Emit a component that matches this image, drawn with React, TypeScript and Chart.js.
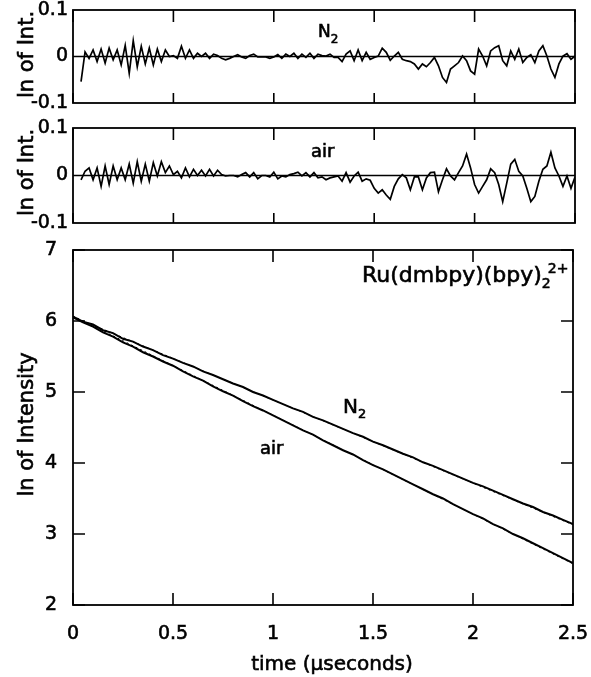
import React, { useEffect, useRef } from "react";
import { Chart, registerables } from "chart.js";

Chart.register(...registerables);

const FONT = '"DejaVu Sans", "Liberation Sans", sans-serif';

// ---------------- data ----------------
// residual sampling clock (µs)
const residStart = 0.04;
const residStep = 0.02;
// main decay sampling clock (µs)
const mainStart = 0;
const mainStep = 0.05;

const n2Residual = [
  -0.054, 0.01, -0.004, 0.014, -0.011, 0.016, -0.014, 0.018, -0.007, 0.014,
  -0.018, 0.024, -0.036, 0.034, -0.022, 0.022, -0.016, 0.018, -0.018, 0.016,
  -0.011, 0.014, 0.0, 0.002, -0.004, 0.022, -0.004, 0.014, -0.004, 0.007,
  0.0, 0.007, -0.004, 0.005, 0.002, -0.004, -0.007, -0.004, 0.0, 0.004,
  -0.001, -0.004, 0.002, 0.005, -0.001, -0.001, -0.001, -0.004, -0.001, 0.004,
  -0.004, 0.005, 0.0, 0.007, -0.004, 0.005, -0.002, 0.007, -0.004, 0.005,
  0.002,
  0.001, 0.005, -0.002, -0.002, -0.011, 0.005, 0.012, -0.009, 0.014, -0.009,
  0.009, -0.006, -0.002, 0.001, 0.018, 0.009, -0.008, 0.001, 0.009, -0.006,
  -0.009, -0.011, -0.016, -0.027, -0.016, -0.022, -0.013, -0.002, -0.02, -0.045,
  -0.056, -0.027, -0.02, -0.013, 0.001, -0.009, -0.031, -0.038, 0.016, 0.001,
  -0.02, 0.012, 0.019, 0.023, -0.009, -0.02, 0.012, -0.006, 0.016, -0.013,
  -0.002, 0.004, -0.013, 0.012, 0.023, 0.001, -0.027, -0.045, -0.016, 0.001,
  0.006, -0.006, 0.001,
];

const airResidual = [
  -0.009, 0.009, 0.016, -0.009, 0.016, -0.023, 0.02, -0.019, 0.02, -0.009,
  0.016, -0.009, 0.024, -0.016, 0.029, -0.012, 0.024, -0.012, 0.027, -0.001,
  0.029, 0.006, 0.02, 0.002, 0.009, -0.005, 0.016, -0.003, 0.013, 0.0,
  0.011, -0.001, 0.013, -0.001, 0.011, 0.002, -0.001, 0.0, 0.0, -0.003,
  0.002, 0.006, -0.003, 0.006, -0.007, 0.0, 0.0, -0.003, 0.007, -0.007,
  -0.001, -0.003, 0.002, 0.004, 0.007, -0.001, 0.006, -0.003, 0.006, -0.005,
  -0.003,
  -0.009, -0.005, -0.003, -0.001, -0.012, 0.006, -0.014, -0.001, 0.007, -0.012,
  -0.007, -0.01, -0.027, -0.037, -0.03, -0.041, -0.05, -0.023, -0.007, 0.002,
  -0.005, -0.03, -0.003, -0.003, -0.03, -0.005, 0.006, 0.007, -0.034, -0.009,
  0.014, -0.001, -0.009, 0.006, 0.02, 0.045, 0.016, -0.019, -0.037, -0.023,
  -0.009, 0.014, 0.006, -0.019, -0.055, -0.016, 0.024, 0.034, 0.009, -0.001,
  -0.027, -0.055, -0.044, -0.012, 0.013, 0.02, 0.049, 0.016, -0.001, -0.023,
  -0.001, -0.027, -0.003,
];

const n2Main = [
  6.06, 5.99, 5.95, 5.87, 5.83, 5.75, 5.71, 5.64, 5.59, 5.52,
  5.47, 5.41, 5.36, 5.29, 5.24, 5.18, 5.12, 5.07, 5.0, 4.95,
  4.89, 4.83, 4.77, 4.72, 4.65, 4.6, 4.54, 4.48, 4.42, 4.37,
  4.3, 4.25, 4.19, 4.13, 4.08, 4.01, 3.96, 3.9, 3.84, 3.78,
  3.72, 3.67, 3.61, 3.55, 3.49, 3.43, 3.38, 3.31, 3.26, 3.2,
  3.14,
];

const airMain = [
  6.05, 5.98, 5.92, 5.84, 5.78, 5.7, 5.64, 5.56, 5.5, 5.43,
  5.37, 5.29, 5.22, 5.16, 5.08, 5.01, 4.95, 4.87, 4.8, 4.74,
  4.67, 4.6, 4.53, 4.46, 4.4, 4.32, 4.25, 4.18, 4.12, 4.04,
  3.97, 3.91, 3.84, 3.77, 3.7, 3.63, 3.56, 3.5, 3.42, 3.35,
  3.28, 3.22, 3.14, 3.08, 3.0, 2.94, 2.87, 2.8, 2.73, 2.66,
  2.59,
];

const fitTimes = [0, 2.5];
const n2Fit = [6.06, 3.13];
const airFit = [6.07, 2.58];

const timeTicks = [0, 0.5, 1, 1.5, 2, 2.5];
const timeTickLabels = ["0", "0.5", "1", "1.5", "2", "2.5"];
const residTicks = [-0.1, 0, 0.1];
const residTickLabels = ["-0.1", "0", "0.1"];
const mainTicks = [2, 3, 4, 5, 6, 7];
const mainTickLabels = ["2", "3", "4", "5", "6", "7"];

// ---------------- helpers ----------------
const clock = (start: number, step: number, n: number) =>
  Array.from({ length: n }, (_, i) => Math.round((start + step * i) * 1000) / 1000);

const toPoints = (ts: number[], vs: number[]) => vs.map((v, i) => ({ x: ts[i], y: v }));

const residTimes = clock(residStart, residStep, n2Residual.length);
const mainTimes = clock(mainStart, mainStep, n2Main.length);

type Part = { text: string; size: number; dy?: number; dx?: number };
type Note = { t: number; v: number; parts: Part[] };

const TEXT_STROKE = 0.6;

const fillStrokeText = (ctx: CanvasRenderingContext2D, text: string, x: number, y: number) => {
  ctx.fillText(text, x, y);
  ctx.lineWidth = TEXT_STROKE;
  ctx.strokeText(text, x, y);
};

const drawParts = (ctx: CanvasRenderingContext2D, x: number, y: number, parts: Part[]) => {
  let cx = x;
  for (const p of parts) {
    ctx.font = `${p.size}px ${FONT}`;
    cx += p.dx || 0;
    fillStrokeText(ctx, p.text, cx, y + (p.dy || 0));
    cx += ctx.measureText(p.text).width;
  }
};

const decorPlugin = {
  id: "decor",
  beforeDatasetsDraw(chart: any, _args: any, opts: any) {
    const { ctx, chartArea: a, scales } = chart;
    if (opts.zeroLine) {
      const y = scales.y.getPixelForValue(0);
      ctx.save();
      ctx.strokeStyle = "#000";
      ctx.lineWidth = 1.5;
      ctx.beginPath();
      ctx.moveTo(a.left, y);
      ctx.lineTo(a.right, y);
      ctx.stroke();
      ctx.restore();
    }
  },
  afterDatasetsDraw(chart: any, _args: any, opts: any) {
    const { ctx, chartArea: a, scales } = chart;
    ctx.save();
    ctx.strokeStyle = "#000";
    ctx.fillStyle = "#000";
    ctx.lineWidth = 1.8;
    ctx.strokeRect(a.left, a.top, a.right - a.left, a.bottom - a.top);
    ctx.lineWidth = 1.6;
    ctx.beginPath();
    for (const v of timeTicks) {
      const x = scales.x.getPixelForValue(v);
      ctx.moveTo(x, a.top);
      ctx.lineTo(x, a.top + opts.tickTop);
      ctx.moveTo(x, a.bottom);
      ctx.lineTo(x, a.bottom - opts.tickBottom);
    }
    if (opts.yTicks) {
      for (const v of opts.yTicks) {
        const y = scales.y.getPixelForValue(v);
        ctx.moveTo(a.left, y);
        ctx.lineTo(a.left + opts.tickSide, y);
        ctx.moveTo(a.right, y);
        ctx.lineTo(a.right - opts.tickSide, y);
      }
    }
    ctx.stroke();

    ctx.textBaseline = "alphabetic";
    ctx.textAlign = "left";
    for (const n of (opts.notes || []) as Note[]) {
      drawParts(ctx, scales.x.getPixelForValue(n.t), scales.y.getPixelForValue(n.v), n.parts);
    }

    if (opts.yTitle) {
      ctx.save();
      ctx.font = `${opts.yTitle.size}px ${FONT}`;
      ctx.textAlign = "center";
      ctx.textBaseline = "alphabetic";
      ctx.translate(a.left - opts.yTitle.offset, (a.top + a.bottom) / 2 + opts.yTitle.shift);
      ctx.rotate(-Math.PI / 2);
      fillStrokeText(ctx, opts.yTitle.text, 0, 0);
      ctx.restore();
    }
    if (opts.xTitle) {
      ctx.font = `${opts.xTitle.size}px ${FONT}`;
      ctx.textAlign = "center";
      fillStrokeText(
        ctx,
        opts.xTitle.text,
        a.left + (a.right - a.left) * opts.xTitle.frac,
        a.bottom + opts.xTitle.offset
      );
    }
    ctx.restore();
  },
};

type Spec = {
  datasets: any[];
  padTop: number;
  padRight: number;
  xAxisHeight: number;
  showXLabels: boolean;
  yMin: number;
  yMax: number;
  yTickVals: number[];
  yTickLabels: string[];
  yPad: number;
  decor: any;
};

const buildConfig = (s: Spec): any => ({
  type: "line",
  data: { datasets: s.datasets },
  plugins: [decorPlugin],
  options: {
    animation: false,
    responsive: false,
    devicePixelRatio: 1,
    layout: { padding: { top: s.padTop, right: s.padRight, left: 0, bottom: 0 } },
    elements: { point: { radius: 0 }, line: { tension: 0 } },
    plugins: { legend: { display: false }, tooltip: { enabled: false }, decor: s.decor },
    scales: {
      x: {
        type: "linear",
        min: 0,
        max: 2.5,
        grid: { display: false, drawTicks: false },
        border: { display: false },
        afterBuildTicks: (sc: any) => {
          sc.ticks = timeTicks.map((v) => ({ value: v }));
        },
        afterFit: (sc: any) => {
          sc.height = s.xAxisHeight;
          sc.paddingLeft = 0;
          sc.paddingRight = 0;
        },
        ticks: {
          display: s.showXLabels,
          autoSkip: false,
          maxRotation: 0,
          padding: 18,
          color: "#000",
          textStrokeColor: "#000",
          textStrokeWidth: TEXT_STROKE,
          font: { family: FONT, size: 19 },
          callback: (_v: any, i: number) => timeTickLabels[i],
        },
      },
      y: {
        type: "linear",
        min: s.yMin,
        max: s.yMax,
        grid: { display: false, drawTicks: false },
        border: { display: false },
        afterBuildTicks: (sc: any) => {
          sc.ticks = s.yTickVals.map((v) => ({ value: v }));
        },
        afterFit: (sc: any) => {
          sc.width = 73;
          sc.paddingTop = 0;
          sc.paddingBottom = 0;
        },
        ticks: {
          autoSkip: false,
          padding: s.yPad,
          color: "#000",
          textStrokeColor: "#000",
          textStrokeWidth: TEXT_STROKE,
          font: { family: FONT, size: 19 },
          callback: (_v: any, i: number) => s.yTickLabels[i],
        },
      },
    },
  },
});

const lineDs = (data: any[], width: number, dash: number[] = []) => ({
  data,
  borderColor: "#000",
  borderWidth: width,
  borderDash: dash,
  pointRadius: 0,
  fill: false,
});

const n2Spec: Spec = {
  datasets: [lineDs(toPoints(residTimes, n2Residual), 1.7)],
  padTop: 10,
  padRight: 16,
  xAxisHeight: 12,
  showXLabels: false,
  yMin: -0.1,
  yMax: 0.1,
  yTickVals: residTicks,
  yTickLabels: residTickLabels,
  yPad: 5,
  decor: {
    zeroLine: true,
    tickTop: 12,
    tickBottom: 10,
    yTitle: { text: "ln of Int.", size: 21, offset: 40, shift: -2 },
    notes: [
      {
        t: 1.22,
        v: 0.042,
        parts: [
          { text: "N", size: 17 },
          { text: "2", size: 12, dy: 6 },
        ],
      },
    ],
  },
};

const airSpec: Spec = {
  datasets: [lineDs(toPoints(residTimes, airResidual), 1.7)],
  padTop: 13,
  padRight: 16,
  xAxisHeight: 12,
  showXLabels: false,
  yMin: -0.1,
  yMax: 0.1,
  yTickVals: residTicks,
  yTickLabels: residTickLabels,
  yPad: 5,
  decor: {
    zeroLine: true,
    tickTop: 12,
    tickBottom: 10,
    yTitle: { text: "ln of Int.", size: 21, offset: 40, shift: -3 },
    notes: [{ t: 1.185, v: 0.04, parts: [{ text: "air", size: 18 }] }],
  },
};

const mainSpec: Spec = {
  datasets: [
    lineDs(toPoints(fitTimes, n2Fit), 1, [2, 3]),
    lineDs(toPoints(fitTimes, airFit), 1, [2, 3]),
    lineDs(toPoints(mainTimes, n2Main), 2),
    lineDs(toPoints(mainTimes, airMain), 2),
  ],
  padTop: 15,
  padRight: 18,
  xAxisHeight: 72,
  showXLabels: true,
  yMin: 2,
  yMax: 7,
  yTickVals: mainTicks,
  yTickLabels: mainTickLabels,
  yPad: 16,
  decor: {
    zeroLine: false,
    tickTop: 12,
    tickBottom: 12,
    yTicks: mainTicks,
    tickSide: 12,
    yTitle: { text: "ln of Intensity", size: 21, offset: 40, shift: -3 },
    xTitle: { text: "time (\u00b5seconds)", size: 20, offset: 65, frac: 0.518 },
    notes: [
      {
        t: 1.445,
        v: 6.55,
        parts: [
          { text: "Ru(dmbpy)(bpy)", size: 22 },
          { text: "2", size: 14, dy: 6 },
          { text: "2+", size: 14, dy: -9, dx: -3 },
        ],
      },
      {
        t: 1.35,
        v: 4.7,
        parts: [
          { text: "N", size: 20 },
          { text: "2", size: 13, dy: 5 },
        ],
      },
      { t: 0.935, v: 4.13, parts: [{ text: "air", size: 18 }] },
    ],
  },
};

function Panel({ top, height, spec }: { top: number; height: number; spec: Spec }) {
  const ref = useRef<HTMLCanvasElement>(null);
  useEffect(() => {
    const chart = new Chart(ref.current as HTMLCanvasElement, buildConfig(spec));
    return () => chart.destroy();
  }, []);
  return (
    <canvas
      ref={ref}
      width={591}
      height={height}
      style={{ position: "absolute", left: 0, top, width: 591, height, display: "block" }}
    />
  );
}

export default function App() {
  return (
    <div
      style={{
        position: "absolute",
        left: 0,
        top: 0,
        width: 591,
        height: 677,
        background: "#fff",
        overflow: "hidden",
      }}
    >
      <Panel top={0} height={115} spec={n2Spec} />
      <Panel top={115} height={120} spec={airSpec} />
      <Panel top={235} height={442} spec={mainSpec} />
    </div>
  );
}
